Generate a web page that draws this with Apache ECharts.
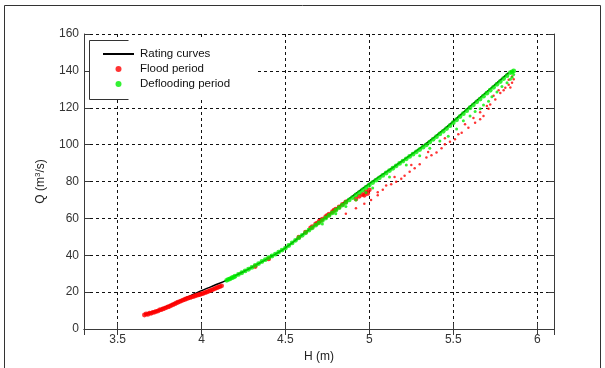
<!DOCTYPE html>
<html>
<head>
<meta charset="utf-8">
<script src="https://cdn.jsdelivr.net/npm/echarts@6/dist/echarts.min.js"></script>
<style>
  html, body { margin: 0; padding: 0; background: #fff; }
  #main { width: 605px; height: 368px; }
</style>
</head>
<body>
<div id="main"></div>
<script>
// rating curve (H in m, Q in m3/s)
var ratingH = [3.66, 3.75, 3.85, 3.98, 4.10, 4.15, 4.20, 4.30, 4.42, 4.50, 4.60, 4.73, 4.87, 5.01, 5.17, 5.33, 5.46, 5.59, 5.71, 5.83];
var ratingQ = [8.0, 10.5, 14.5, 20.0, 24.5, 26.5, 28.8, 33.5, 39.5, 44.0, 51.0, 60.0, 70.0, 79.5, 89.5, 100.0, 109.5, 120.0, 129.5, 139.0];

// flood period - dense band along the curve
var floodBand = [
  [3.66,7.6],[3.67,8.2],[3.68,7.9],[3.69,8.6],[3.70,8.5],[3.71,9.0],[3.72,9.1],[3.73,9.6],[3.74,9.7],[3.75,10.3],
  [3.76,10.5],[3.77,10.9],[3.78,11.2],[3.79,11.6],[3.80,12.0],[3.81,12.3],[3.82,12.8],[3.83,13.2],[3.84,13.6],[3.85,14.1],
  [3.86,14.5],[3.87,14.9],[3.88,15.3],[3.89,15.7],[3.90,16.0],[3.91,16.4],[3.92,16.7],[3.93,17.0],[3.94,17.3],[3.95,17.6],
  [3.96,17.9],[3.97,18.2],[3.98,18.5],[3.99,18.7],[4.00,19.0],[4.01,19.3],[4.02,19.7],[4.03,20.0],[4.04,20.4],[4.05,20.8],
  [4.06,21.1],[4.07,21.5],[4.08,21.9],[4.09,22.3],[4.10,22.7],[4.11,23.0],[4.12,23.4],
  [4.32,33.9],[4.40,38.0],
  [4.58,49.8],[4.62,52.5],[4.65,54.8],[4.66,55.5],[4.68,57.0],[4.69,57.4],[4.70,58.3],[4.71,58.8],[4.72,59.6],[4.74,61.0],
  [4.75,61.6],[4.76,62.3],[4.78,63.6],[4.79,64.4],[4.80,65.0],[4.82,66.2],[4.84,67.6],[4.86,69.0],
  [4.92,70.5],[4.94,72.0],[4.96,73.0],[4.97,72.5],[4.98,74.5],[4.99,73.5],[5.00,75.5]
];

// flood period - loop below the curve
var floodLoop = [
  [4.86,62.5],[4.92,65.5],[4.97,68.0],[5.01,70.0],[5.05,72.5],[5.05,74.2],[5.08,75.5],[5.10,77.8],[5.13,78.5],[5.16,79.9],
  [5.19,81.5],[5.21,83.1],[5.24,85.3],[5.27,87.2],[5.30,89.4],[5.34,93.0],[5.37,94.2],[5.40,95.7],[5.43,98.0],[5.45,100.2],
  [5.48,101.5],[5.51,102.9],[5.53,105.6],[5.55,106.5],[5.59,109.2],[5.63,111.9],[5.66,113.7],[5.68,115.5],[5.71,119.4],[5.72,121.8],
  [5.75,124.5],[5.78,128.0],[5.81,130.8],[5.83,132.5],[5.85,133.5],[5.85,137.0],[5.83,135.2],[5.84,131.0],[5.80,129.5],[5.86,135.5],
  [5.62,114.5],[5.66,117.5],[5.70,121.0],[5.74,126.5],[5.77,129.5],[5.57,111.0],[5.45,103.5],[5.35,96.0],[5.25,89.0],[5.15,82.5]
];

// deflooding period - main band
var deflood = [
  [4.15,26.4],[4.16,26.9],[4.17,27.2],[4.18,27.7],[4.19,28.1],[4.20,28.6],[4.22,29.6],[4.24,30.5],[4.26,31.5],[4.28,32.4],
  [4.30,33.4],[4.32,34.5],[4.34,35.5],[4.36,36.6],[4.38,37.6],[4.40,38.7],[4.42,39.6],[4.44,40.6],[4.46,41.7],[4.48,42.8],
  [4.50,43.9],[4.52,45.3],[4.54,46.7],[4.56,48.1],[4.58,49.5],[4.60,50.8],[4.62,52.2],[4.64,53.6],[4.66,54.9],[4.68,56.3],
  [4.70,57.6],[4.72,58.9],[4.74,60.2],[4.76,61.6],[4.78,63.0],[4.80,64.4],[4.82,65.8],[4.84,67.2],[4.86,68.6],[4.88,70.0],
  [4.90,71.3],[4.92,72.7],[4.94,74.0],[4.96,75.4],[4.98,76.8],[5.00,78.1],[5.02,79.4],[5.04,80.7],[5.06,82.0],[5.08,83.3],
  [5.10,84.6],[5.12,85.9],[5.14,87.2],[5.16,88.5],[5.18,89.8],[5.20,91.1],[5.22,92.3],[5.24,93.6],[5.26,94.8],[5.28,96.1],
  [5.30,97.3],[5.32,98.6],[5.34,99.9],[5.36,101.4],[5.38,102.9],[5.40,104.3],[5.42,105.8],[5.44,107.2],[5.46,108.7],[5.48,110.3],
  [5.50,111.9],[5.52,113.5],[5.54,115.2],[5.56,116.8],[5.58,118.4],[5.60,120.0],[5.62,121.6],[5.64,123.2],[5.66,124.7],[5.68,126.3],
  [5.70,127.9],[5.72,129.5],[5.74,131.1],[5.76,132.7],[5.78,134.2],[5.80,135.8],[5.82,137.4],[5.84,139.0],[5.85,139.5],[5.86,140.0]
];
// deflooding period - points spread below the band
var defloodSpread = [
  [4.72,57.0],[4.80,62.5],[4.86,66.5],[4.92,70.0],[4.98,74.0],[5.02,76.5],[5.12,82.5],[5.22,89.0],[5.30,94.0],[5.36,98.0],
  [5.42,102.0],[5.47,104.5],[5.52,108.5],[5.56,113.0],[5.60,115.5],[5.63,118.0],[5.66,119.5],[5.68,121.5],[5.71,123.5],[5.73,126.0],
  [5.76,128.5],[5.79,131.5],[5.82,133.5],[5.85,136.5],[5.86,138.0],[5.84,135.5]
];

var xMin = 3.3, xMax = 6.1;
var yMin = 0, yMax = 160, yStep = 20;

var ratingData = ratingH.map(function (h, i) { return [h, ratingQ[i]]; });

var font = 'Liberation Sans, Arial, sans-serif';
var axisColor = '#3a3a3a';
var dash = { color: '#111', type: [3, 3], width: 1 };

var myChart = echarts.init(document.getElementById('main'));
var option = {
    backgroundColor: '#fff',
    animation: false,
    grid: { left: 84, right: 51, top: 34, bottom: 37 },
    legend: {
        orient: 'vertical',
        left: 97,
        top: 43,
        z: 200,
        itemWidth: 31,
        itemHeight: 6,
        itemGap: 3,
        textStyle: { fontFamily: font, fontSize: 11.5, color: '#111', padding: [0, 0, 0, 1] },
        data: [
            { name: 'Rating curves', itemStyle: { opacity: 0 } },
            { name: 'Flood period', icon: 'circle' },
            { name: 'Deflooding period', icon: 'circle' }
        ]
    },
    graphic: [
        { type: 'rect', z: 100, shape: { x: 4.5, y: 5.5, width: 596, height: 380 },
          style: { fill: null, stroke: '#333', lineWidth: 1 } },
        { type: 'rect', z: 100, shape: { x: 89, y: 40, width: 167, height: 59 },
          style: { fill: '#fff', stroke: null } },
        { type: 'polyline', z: 101, shape: { points: [[128.5, 40.5], [89.5, 40.5], [89.5, 99.5], [128.5, 99.5]] },
          style: { stroke: '#333', lineWidth: 1, fill: null } }
    ],
    xAxis: [{
        type: 'value', min: xMin, max: xMax, splitNumber: 5,
        name: 'H (m)', nameLocation: 'middle', nameGap: 22,
        nameTextStyle: { fontFamily: font, fontSize: 12, color: '#222' },
        axisLine: { lineStyle: { color: axisColor } },
        axisTick: { inside: true, length: 6, lineStyle: { color: axisColor } },
        axisLabel: { fontFamily: font, fontSize: 12, color: '#333', margin: 5,
            formatter: function (v) { return Math.abs(v * 2 - Math.round(v * 2)) < 1e-6 ? String(v) : ''; } },
        splitLine: { show: true, lineStyle: dash }
    }, {
        type: 'value', min: xMin, max: xMax, splitNumber: 5, position: 'top',
        axisLine: { show: true, lineStyle: { color: axisColor } },
        axisTick: { inside: true, length: 6, lineStyle: { color: axisColor } },
        axisLabel: { show: false },
        splitLine: { show: false }
    }],
    yAxis: [{
        type: 'value', min: yMin, max: yMax, interval: yStep,
        name: 'Q (m{sup|3}/s)', nameLocation: 'middle', nameGap: 36, nameRotate: 90,
        nameTextStyle: { fontFamily: font, fontSize: 12, color: '#222',
            rich: { sup: { fontFamily: font, fontSize: 8, color: '#222', verticalAlign: 'top', padding: [0, 0, 6, 0] } } },
        axisLine: { show: true, lineStyle: { color: axisColor } },
        axisTick: { inside: true, length: 6, lineStyle: { color: axisColor } },
        axisLabel: { fontFamily: font, fontSize: 12, color: '#333', margin: 5 },
        splitLine: { show: true, lineStyle: dash }
    }, {
        type: 'value', min: yMin, max: yMax, interval: yStep, position: 'right',
        axisLine: { show: true, lineStyle: { color: axisColor } },
        axisTick: { inside: true, length: 6, lineStyle: { color: axisColor } },
        axisLabel: { show: false },
        splitLine: { show: false }
    }],
    series: [
        {
            name: 'Rating curves', type: 'line', data: ratingData, z: 1, smooth: 0.3,
            symbol: 'none', color: '#000', lineStyle: { color: '#000', width: 1.6 }
        },
        {
            name: 'Flood period', type: 'scatter', data: floodBand, z: 3,
            symbol: 'circle', symbolSize: 4.8, itemStyle: { color: '#ff0000' }
        },
        {
            name: 'Flood period', type: 'scatter', data: floodLoop, z: 3,
            symbol: 'circle', symbolSize: 2.5, itemStyle: { color: '#ff0000' }
        },
        {
            name: 'Deflooding period', type: 'scatter', data: deflood, z: 4,
            symbol: 'circle', symbolSize: 4.8, itemStyle: { color: '#00ee00' }
        },
        {
            name: 'Deflooding period', type: 'scatter', data: defloodSpread, z: 4,
            symbol: 'circle', symbolSize: 3, itemStyle: { color: '#00ee00' }
        }
    ]
};
myChart.setOption(option);
</script>
</body>
</html>
